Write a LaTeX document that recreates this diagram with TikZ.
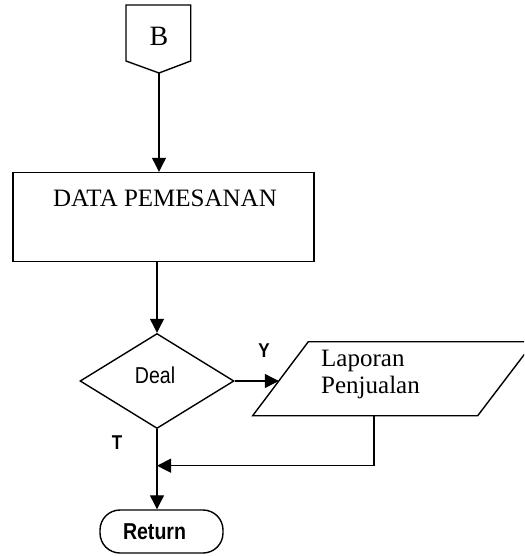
\documentclass[tikz,border=0pt]{standalone}
\usepackage{fontspec}
\setmainfont{Liberation Serif}
\setsansfont{Liberation Sans}
\newfontfamily\narrowsans[FakeStretch=0.85]{Liberation Sans}
\usetikzlibrary{arrows.meta,shapes.geometric}
\tikzset{
  shp/.style={draw=black, line width=1.4pt},
  conn/.style={draw=black, line width=1.2pt},
  arr/.style={conn, -{Triangle[length=14pt,width=14pt]}},
  lbl/.style={font=\narrowsans\bfseries\fontsize{20}{23}\selectfont, inner sep=0pt},
}
\begin{document}
\begin{tikzpicture}[x=1pt,y=-1pt]
\useasboundingbox (0,0) rectangle (524,556);
\clip (0,0) rectangle (524,556);
% off-page connector B
\draw[shp, line join=miter] (126,5) -- (190.7,5) -- (190.7,61) -- (159,73) -- (126,61) -- cycle;
\node[inner sep=0pt, font=\fontsize{28}{30}\selectfont] (btxt) at (159,36) {B};
\coordinate (bbot) at (159,73);
% process box
\node[shp, rectangle, minimum width=301pt, minimum height=89pt, inner sep=0pt] (data) at (163.5,217) {};
\node[inner sep=0pt, font=\fontsize{25}{28}\selectfont] (datatxt) at (165,198) {DATA PEMESANAN};
% decision
\node[shp, diamond, minimum width=154pt, minimum height=95pt, inner sep=0pt] (deal) at (157,381) {};
\node[inner sep=0pt, font=\narrowsans\fontsize{23}{26}\selectfont] (dealtxt) at (155,375) {Deal};
% output parallelogram
\draw[shp] (252.7,415.7) -- (477.7,415.7) -- (534,341.7) -- (308.3,341.7) -- cycle;
\coordinate (parL) at (278.8,381);
\coordinate (parB) at (374,415.7);
\node[inner sep=0pt, align=left, anchor=north west, font=\fontsize{25}{27}\selectfont] (laptxt) at (321,350) {Laporan\\Penjualan};
% terminal
\node[shp, rectangle, rounded corners=20pt, minimum width=123pt, minimum height=43pt, inner sep=0pt] (ret) at (161.5,531.5) {};
\node[inner sep=0pt, font=\narrowsans\bfseries\fontsize{23}{26}\selectfont] (rettxt) at (154.5,531.5) {Return};
% labels
\node[lbl] (ylbl) at (264,351) {Y};
\node[lbl] (tlbl) at (117,443) {T};
% connectors
\draw[arr] (bbot) -- (bbot |- data.north);
\draw[arr] (deal.north |- data.south) -- (deal.north);
\draw[arr] (deal.east) -- (parL);
\draw[arr] (deal.south) -- (deal.south |- ret.north);
\coordinate (joinR) at (374,465.7);
\draw[arr] (parB) -- (joinR) -- (joinR -| deal.south);
\end{tikzpicture}
\end{document}
